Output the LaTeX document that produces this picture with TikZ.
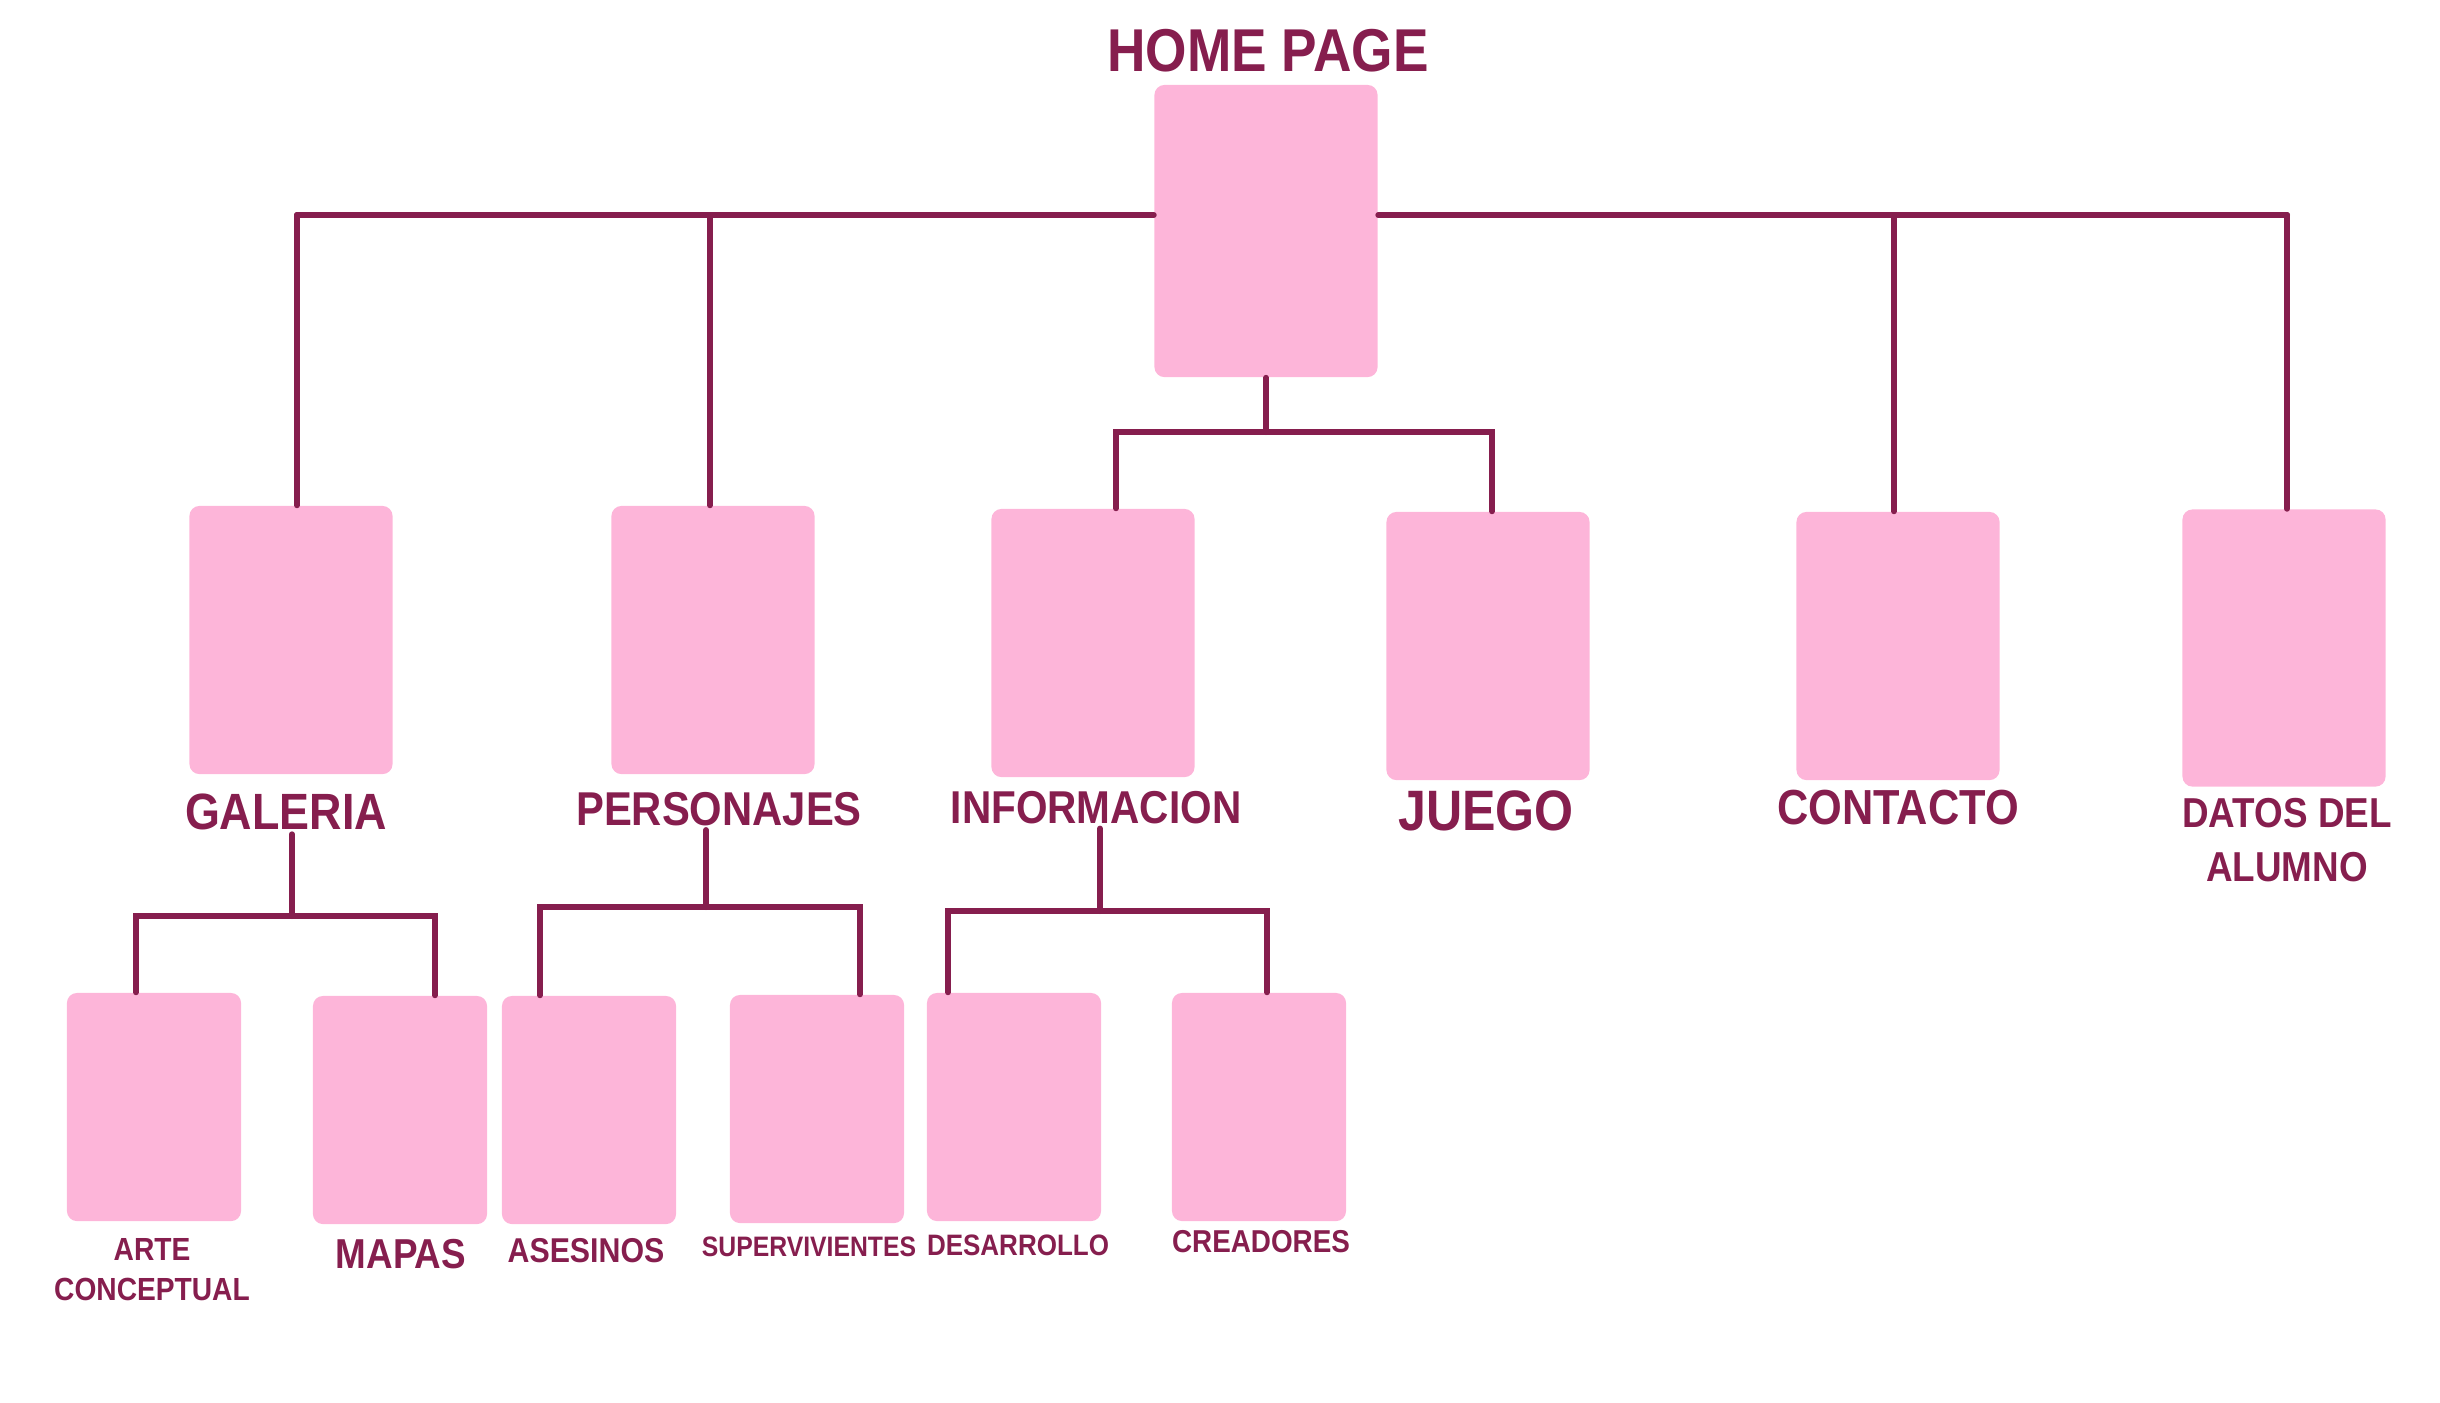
\documentclass[tikz,border=0pt]{standalone}
\usepackage{fontspec}
\setmainfont{Liberation Sans}[FakeStretch=0.88]
\usetikzlibrary{positioning}
\definecolor{sitepink}{HTML}{FDB5D9}
\definecolor{siteplum}{HTML}{861E4E}

\begin{document}
\begin{tikzpicture}[x=0.01cm, y=-0.01cm,
  page/.style={fill=sitepink, rounded corners=0.1cm, inner sep=0pt},
  midpage/.style={page, minimum width=2.03cm, minimum height=2.68cm},
  subpage/.style={page, minimum width=1.74cm, minimum height=2.28cm},
  tag/.style={text=siteplum, font=\bfseries\fontsize{#1}{#1}\selectfont, inner sep=1pt},
  tagpair/.style 2 args={text=siteplum, font=\bfseries\fontsize{#1}{#2}\selectfont, inner sep=1pt, align=center},
  link/.style={siteplum, line width=1.7pt, line cap=round}]
\useasboundingbox (0,0) rectangle (2440,1402);

% Pages, top level
\node[page, minimum width=2.23cm, minimum height=2.92cm] (home) at (1266,231) {};
\node[midpage] (galeria) at (291,640) {};
\node[midpage] (personajes) at (713,640) {};
\node[midpage] (informacion) at (1093,643) {};
\node[midpage] (juego) at (1488,646) {};
\node[midpage] (contacto) at (1898,646) {};
\node[midpage, minimum height=2.77cm] (datos) at (2284,648) {};

% Pages, sub level
\node[subpage] (arte) at (154,1107) {};
\node[subpage] (mapas) at (400,1110) {};
\node[subpage] (asesinos) at (589,1110) {};
\node[subpage] (supervivientes) at (817,1109) {};
\node[subpage] (desarrollo) at (1014,1107) {};
\node[subpage] (creadores) at (1259,1107) {};

% Labels
\node[tag=17.2pt] (lhome) at (1268,51) {HOME PAGE};
\node[tag=14.5pt] (lgaleria) at (286,812) {GALERIA};
\node[tag=13.5pt] (lpersonajes) at (719,809) {PERSONAJES};
\node[tag=13.1pt] (linformacion) at (1096,808) {INFORMACION};
\node[tag=16.2pt] (ljuego) at (1486,811) {JUEGO};
\node[tag=14pt] (lcontacto) at (1898,808) {CONTACTO};
\node[tagpair={11.9pt}{15.6pt}] (ldatos) at (2287,840) {DATOS DEL\\ALUMNO};
\node[tagpair={9.1pt}{11.4pt}] (larte) at (152,1270) {ARTE\\CONCEPTUAL};
\node[tag=11.9pt] (lmapas) at (401,1254) {MAPAS};
\node[tag=9.8pt] (lasesinos) at (586,1251) {ASESINOS};
\node[tag=8pt] (lsupervivientes) at (809,1247) {SUPERVIVIENTES};
\node[tag=8.4pt] (ldesarrollo) at (1018,1245) {DESARROLLO};
\node[tag=9pt] (lcreadores) at (1261,1242) {CREADORES};

% Top bus
\coordinate (busL) at (297,215);
\coordinate (busP) at (710,215);
\coordinate (busC) at (1894,215);
\coordinate (busR) at (2287,215);
\draw[link] (busL) -- (busL -| home.west);
\draw[link] (home.east |- busR) -- (busR);
\draw[link] (busL) -- (busL |- galeria.north);
\draw[link] (busP) -- (busP |- personajes.north);
\draw[link] (busC) -- (busC |- contacto.north);
\draw[link] (busR) -- (busR |- datos.north);

% Home to informacion and juego
\coordinate (homeL) at (1116,432);
\coordinate (homeR) at (1492,432);
\draw[link] (home.south) -- (home.south |- homeL);
\draw[link] (informacion.north -| homeL) -- (homeL) -- (homeR) -- (homeR |- juego.north);

% Galeria children
\coordinate (galJ) at (292,916);
\coordinate (galL) at (136,916);
\coordinate (galR) at (435,916);
\draw[link] (lgaleria.south -| galJ) -- (galJ);
\draw[link] (arte.north -| galL) -- (galL) -- (galR) -- (galR |- mapas.north);

% Personajes children
\coordinate (perJ) at (706,907);
\coordinate (perL) at (540,907);
\coordinate (perR) at (860,907);
\draw[link] (lpersonajes.south -| perJ) -- (perJ);
\draw[link] (asesinos.north -| perL) -- (perL) -- (perR) -- (perR |- supervivientes.north);

% Informacion children
\coordinate (infJ) at (1100,911);
\coordinate (infL) at (948,911);
\coordinate (infR) at (1267,911);
\draw[link] (linformacion.south -| infJ) -- (infJ);
\draw[link] (desarrollo.north -| infL) -- (infL) -- (infR) -- (infR |- creadores.north);

\end{tikzpicture}
\end{document}
